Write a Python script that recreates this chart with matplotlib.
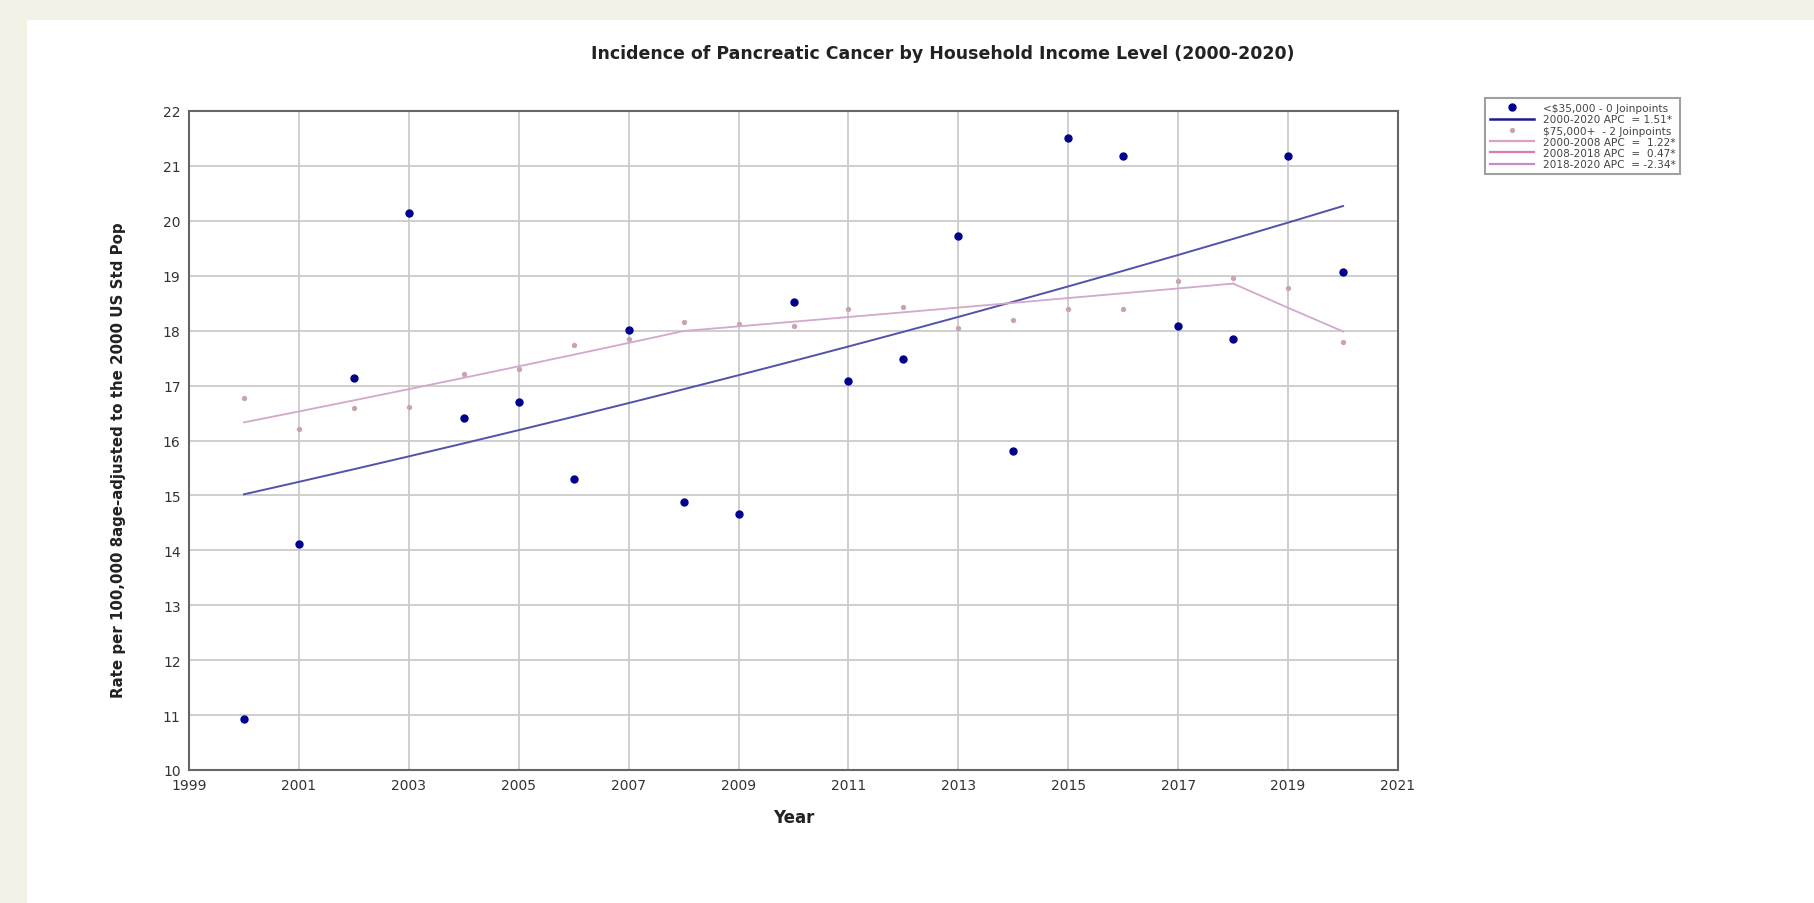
import numpy as np
import matplotlib.pyplot as plt
from matplotlib.patches import Rectangle

years = list(range(2000, 2021))

# observed rates, household income < $35,000
low_income = [10.93, 14.12, 17.14, 20.14, 16.41, 16.71, 15.30, 18.01, 14.88, 14.66,
              18.52, 17.09, 17.49, 19.72, 15.80, 21.50, 21.18, 18.09, 17.85, 21.18, 19.07]
# observed rates, household income $75,000+
high_income = [16.78, 16.21, 16.60, 16.61, 17.22, 17.31, 17.74, 17.85, 18.15, 18.13,
               18.09, 18.40, 18.43, 18.05, 18.20, 18.40, 18.40, 18.90, 18.95, 18.77, 17.79]

# joinpoint segments: (start year, end year, APC)
low_segments = [(2000, 2020, 1.51)]
low_start = 15.02
high_segments = [(2000, 2008, 1.22), (2008, 2018, 0.47), (2018, 2020, -2.34)]
high_start = 16.33

low_labels = ["<$35,000 - 0 Joinpoints", "2000-2020 APC  = 1.51*"]
high_labels = ["$75,000+  - 2 Joinpoints", "2000-2008 APC  =  1.22*",
               "2008-2018 APC  =  0.47*", "2018-2020 APC  = -2.34*"]
high_colors = ["#dca0c8", "#d87ab8", "#c48ccc"]


def segment_curves(start, segments):
    curves = []
    val = start
    for y0, y1, apc in segments:
        xs = np.arange(y0, y1 + 1)
        ys = val * (1 + apc / 100.0) ** (xs - y0)
        curves.append((xs, ys))
        val = ys[-1]
    return curves


fig = plt.figure(figsize=(18.14, 9.04), dpi=100)
fig.patch.set_facecolor("white")
# beige frame strips on top and left
fig.add_artist(Rectangle((0, 1 - 21 / 904), 1, 21 / 904, transform=fig.transFigure,
                         facecolor="#f2f2e6", edgecolor="none", zorder=0))
fig.add_artist(Rectangle((0, 0), 27 / 1814, 1, transform=fig.transFigure,
                         facecolor="#f2f2e6", edgecolor="none", zorder=0))

ax = fig.add_axes([189 / 1814, 133 / 904, 1209 / 1814, 659 / 904])

ax.set_xlim(1999, 2021)
ax.set_ylim(10, 22)
ax.set_xticks(range(1999, 2022, 2))
ax.set_yticks(range(10, 23))
ax.grid(True, color="#cccccc", linewidth=1.3)
ax.set_axisbelow(True)
ax.tick_params(length=0, labelsize=10, colors="#333333", pad=6)
for s in ax.spines.values():
    s.set_color("#666666")
    s.set_linewidth(1.5)

handles = []
h, = ax.plot(years, low_income, "o", color="#00008b", markersize=5, linestyle="none")
handles.append(h)
for xs, ys in segment_curves(low_start, low_segments):
    h, = ax.plot(xs, ys, color="#5252aa", linewidth=1.4)
handles.append(ax.plot([], [], color="#1c1c8c", linewidth=1.8)[0])

h, = ax.plot(years, high_income, "o", color="#c9a3ae", markersize=2.8, linestyle="none")
handles.append(h)
for (xs, ys), c in zip(segment_curves(high_start, high_segments), high_colors):
    ax.plot(xs, ys, color="#d2a8cc", linewidth=1.3)
    handles.append(ax.plot([], [], color=c, linewidth=1.6)[0])

leg = fig.legend(handles, low_labels + high_labels, loc="upper left",
                 bbox_to_anchor=(1480 / 1814, 1 - 94 / 904), fontsize=7.6,
                 frameon=True, fancybox=False, shadow=False, labelspacing=0.12,
                 handlelength=4.2, handletextpad=0.8, borderpad=0.45,
                 labelcolor="#444444")
leg.get_frame().set_edgecolor("#888888")
leg.get_frame().set_linewidth(1.5)

fig.text(943 / 1814, 1 - 54 / 904,
         "Incidence of Pancreatic Cancer by Household Income Level (2000-2020)",
         ha="center", va="center", fontsize=12.5, fontweight="bold", color="#222222")
fig.text(794 / 1814, 1 - 818 / 904, "Year", ha="center", va="center",
         fontsize=12, fontweight="bold", color="#222222")
fig.text(119 / 1814, 1 - 460 / 904,
         "Rate per 100,000 8age-adjusted to the 2000 US Std Pop",
         ha="center", va="center", rotation=90, fontsize=10.8, fontweight="bold",
         color="#222222")

fig.savefig("out.png", dpi=100)
